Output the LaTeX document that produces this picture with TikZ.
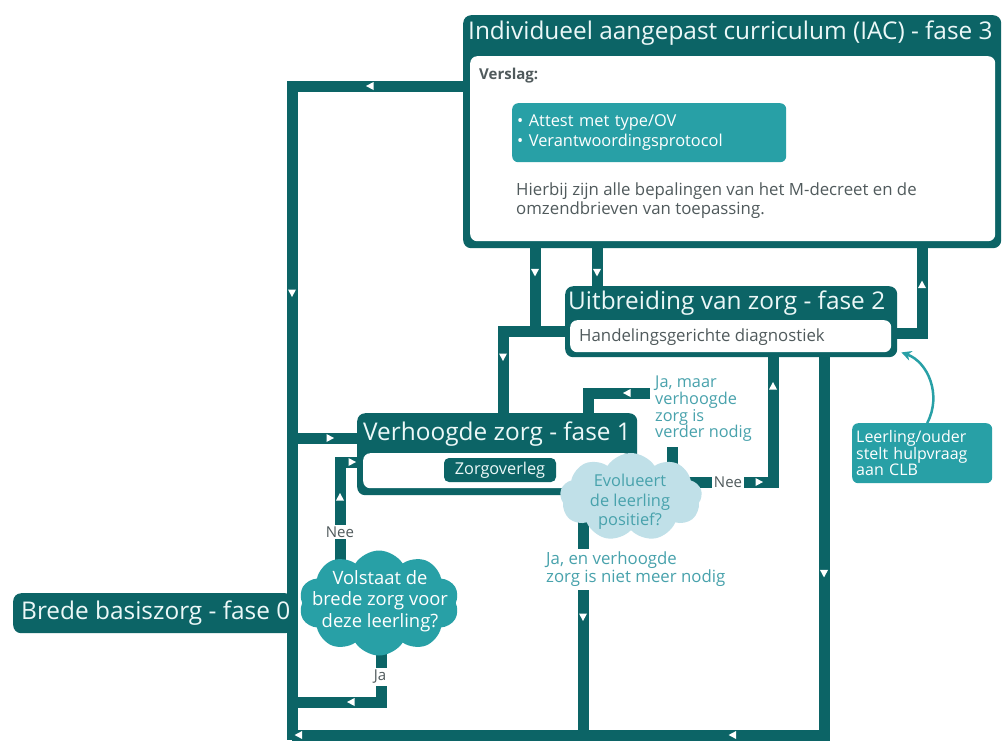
\documentclass[tikz,border=0pt]{standalone}
\usepackage{fontspec}
\setmainfont{Open Sans}
\usetikzlibrary{shapes.symbols,decorations.markings,arrows.meta}
\definecolor{dk}{RGB}{12,100,102}
\definecolor{md}{RGB}{40,160,166}
\definecolor{lb}{RGB}{192,224,232}
\definecolor{lt}{RGB}{72,162,172}
\definecolor{gr}{RGB}{80,90,92}
\definecolor{wt}{RGB}{236,248,248}
\newcommand{\fsz}[2]{\fontsize{#1}{#2}\selectfont}
\pgfdeclarelayer{back}
\pgfdeclarelayer{bg}
\pgfsetlayers{back,bg,main}
\begin{document}
\begin{tikzpicture}[x=1pt,y=-1pt,
  dbox/.style={fill=dk, rounded corners=8pt, anchor=north west, inner sep=0pt},
  wbox/.style={fill=white, rounded corners=7pt, anchor=north west, inner sep=0pt},
  title/.style={text=wt, font=\fsz{24.4}{28}, inner sep=0pt, anchor=west},
  flow/.style={draw=dk, line width=11pt},
  mk/.style={postaction={decorate,decoration={markings,mark=at position #1 with {\fill[white] (4pt,0pt)--(-3.5pt,4pt)--(-3.5pt,-4pt)--cycle;}}}},
  lab/.style={font=\fsz{15}{18}, text=gr, fill=white, inner sep=2pt},
  cloudshape/.style={cloud, cloud puffs=#1, cloud puff arc=115, cloud ignores aspect, inner sep=0pt}
]
\begin{pgfonlayer}{back}
\fill[white] (0,0) rectangle (1003,740);
\end{pgfonlayer}
\useasboundingbox (0,0) rectangle (1003,740);

% ---------- fase 3 ----------
\node[dbox, minimum width=538, minimum height=233] (f3) at (463,15) {};
\node[wbox, minimum width=525, minimum height=185] (f3in) at (470,56) {};
\node[title] (f3t) at (468,33) {Individueel aangepast curriculum (IAC) - fase 3};
\node[anchor=west, inner sep=0pt, text=gr, font=\fsz{15}{18}\bfseries] (vs) at (479,76) {Verslag:};
\node[fill=md, rounded corners=6pt, anchor=north west, minimum width=274, minimum height=59,
      text width=264, align=left, inner sep=5pt, text=white, font=\fsz{16.4}{20}] (att) at (512,103)
      {• Attest met type/OV\\• Verantwoordingsprotocol};
\node[anchor=north west, inner sep=0pt, text=gr, font=\fsz{16.8}{19}, align=left] (hb) at (516,183)
      {Hierbij zijn alle bepalingen van het M-decreet en de\\omzendbrieven van toepassing.};

% ---------- fase 2 ----------
\node[dbox, minimum width=332, minimum height=71] (f2) at (565,286) {};
\node[wbox, minimum width=321, minimum height=32] (f2in) at (570,320) {};
\node[title] (f2t) at (568,303) {Uitbreiding van zorg - fase 2};
\node[anchor=west, inner sep=0pt, text=gr, font=\fsz{16.8}{19}] (hgd) at (579,337) {Handelingsgerichte diagnostiek};

% ---------- fase 1 ----------
\node[dbox, minimum width=280, minimum height=82] (f1) at (357,413) {};
\node[wbox, minimum width=268, minimum height=35] (f1in) at (363,453) {};
\node[title] (f1t) at (363,434) {Verhoogde zorg - fase 1};
\node[fill=dk, rounded corners=5pt, minimum width=112, minimum height=24, inner sep=0pt,
      text=wt, font=\fsz{16.3}{18}] (zo) at (500,470) {Zorgoverleg};

% ---------- fase 0 ----------
\node[dbox, minimum width=280, minimum height=40] (f0) at (13,593) {};
\node[title] (f0t) at (21,613) {Brede basiszorg - fase 0};

% ---------- CLB ----------
\node[fill=md, rounded corners=6pt, anchor=north west, minimum width=140, minimum height=60,
      text width=132, align=left, inner sep=4pt, text=white, font=\fsz{16}{14.3}] (leer) at (852,423)
      {Leerling/ouder\\stelt hulpvraag\\aan CLB};

% ---------- clouds ----------
\node[cloudshape=10, fill=md, minimum width=160, minimum height=105] (c0) at (379,603) {};
\node[text=white, font=\fsz{18.4}{21.5}, align=center, inner sep=0pt] (c0t) at (380,601)
      {Volstaat de\\brede zorg voor\\deze leerling?};
\node[cloudshape=9, fill=lb, minimum width=142, minimum height=88] (c1) at (631,497) {};
\node[text=lt, font=\fsz{16.4}{19.5}, align=center, inner sep=0pt] (c1t) at (630,502)
      {Evolueert\\de leerling\\positief?};

% ---------- labels ----------
\node[anchor=north west, inner xsep=5pt, inner ysep=0pt, text=lt, font=\fsz{16.3}{16.7}, align=left] (jm) at (650,376)
      {Ja, maar\\verhoogde\\zorg is\\verder nodig};
\node[anchor=north west, inner sep=3pt, fill=white, text=lt, font=\fsz{16.8}{18}, align=left] (je) at (543,549)
      {Ja, en verhoogde\\zorg is niet meer nodig};
\node[lab] (nee1) at (728,482) {Nee};
\node[lab] (nee0) at (340,532) {Nee};
\node[lab] (ja0) at (380,677) {Ja};

% ---------- junction coordinates ----------
\coordinate (a86) at (292,86);
\coordinate (abot) at (292,740);
\coordinate (a438) at (292,438);
\coordinate (b735) at (824,735);
\coordinate (j702) at (381,702);
\coordinate (n462) at (340,462);
\coordinate (k) at (535,331);
\coordinate (k2) at (503,331);
\coordinate (m) at (597,300);
\coordinate (r) at (922,333);
\coordinate (q) at (773,482);
\coordinate (jm1) at (672,447);
\coordinate (jm2) at (588,393);
\coordinate (je1) at (583,735);

% ---------- connectors ----------
\begin{pgfonlayer}{bg}
\draw[flow, mk=93pt, mk=378pt] (f3.west |- a86) -- (a86) -- (abot);
\draw[flow, mk=38pt] (a438) -- (f1.west |- a438);
\draw[flow, mk=216pt, mk=469pt, mk=903pt] (f2.south -| b735) -- (b735) -- (a86 |- b735);
\draw[flow, mk=129pt] (c0.center -| j702) -- (j702) -- (a86 |- j702);
\draw[flow, mk=106pt, mk=153pt] (c0.center -| n462) -- (n462) -- (f1in.west |- n462);
\draw[flow, mk=24pt] (f3.south -| k) -- (k);
\draw[flow, mk=88pt] (f2.west |- k) -- (k2) -- (f1.north -| k2);
\draw[flow, mk=24pt] (f3.south -| m) -- (f2.north -| m);
\draw[flow, mk=73pt] (f2.east |- r) -- (r) -- (f3.south -| r);
\draw[flow, mk=128pt, mk=238pt] (c1.center |- q) -- (q) -- (f2.south -| q);
\draw[flow] (c1.center -| jm1) -- (jm1);
\draw[flow, mk=23pt] (jm.west |- jm2) -- (jm2) -- (f1.north -| jm2);
\draw[flow, mk=120pt] (c1.center -| je1) -- (je1);
\end{pgfonlayer}

% ---------- CLB curved arrow ----------
\draw[md, line width=2.5pt, -{Stealth[length=10pt,width=10pt]}]
  ([xshift=5pt]leer.north) .. controls (942,395) and (928,362) .. ([xshift=4pt,yshift=5pt]f2.south east);
\end{tikzpicture}
\end{document}
